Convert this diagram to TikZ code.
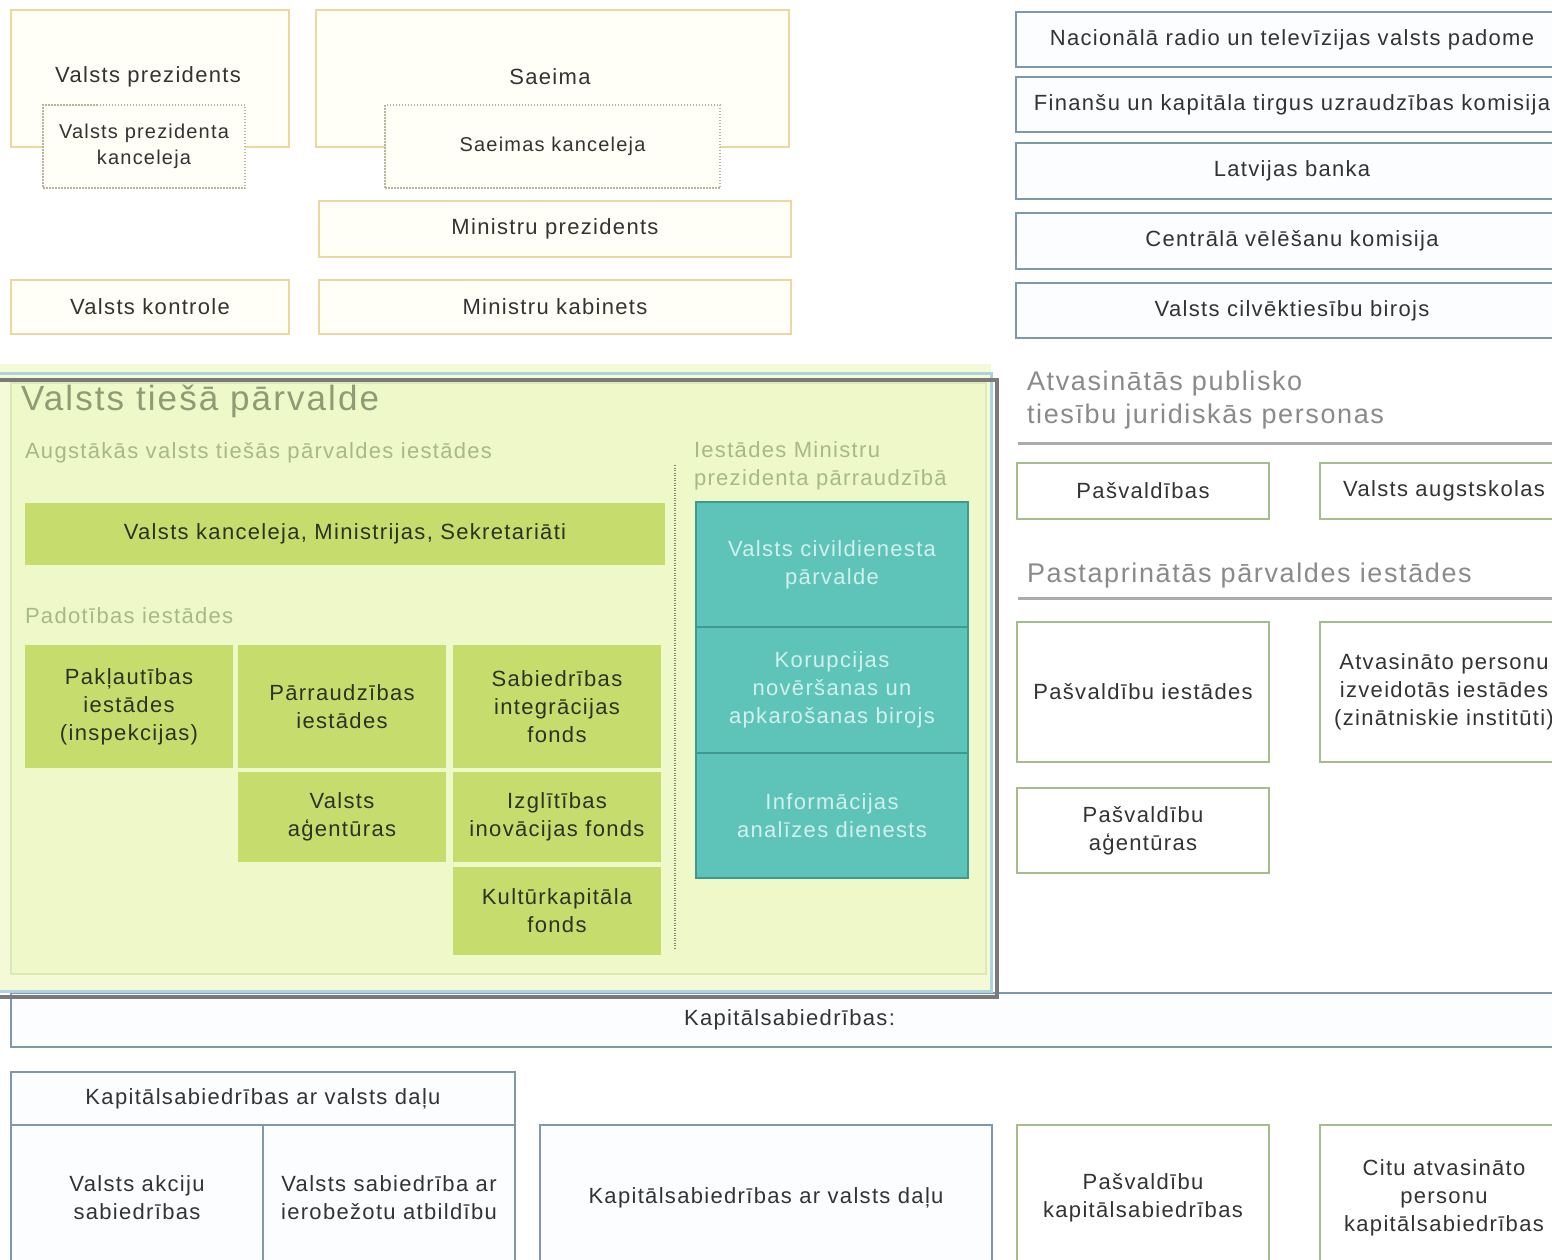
\documentclass[tikz,border=0pt]{standalone}
\usepackage{fontspec}
\setmainfont{Liberation Sans}[LetterSpace=6]
\definecolor{txt}{HTML}{333333}
\definecolor{ybord}{HTML}{EAD8A0}
\definecolor{yfill}{HTML}{FFFFF8}
\definecolor{kbord}{HTML}{B8B49C}
\definecolor{bbord}{HTML}{7F99AC}
\definecolor{bfill}{HTML}{FBFDFF}
\definecolor{gbord}{HTML}{A5BD8C}
\definecolor{panelout}{HTML}{F4FAD8}
\definecolor{panelin}{HTML}{EFF8C8}
\definecolor{panelline}{HTML}{DCE8B6}
\definecolor{cellg}{HTML}{C6DD6E}
\definecolor{celltxt}{HTML}{2C3320}
\definecolor{tealf}{HTML}{5EC4B9}
\definecolor{teald}{HTML}{3E9A90}
\definecolor{tealt}{HTML}{D2F0EC}
\definecolor{ptitle}{HTML}{8E9C76}
\definecolor{psub}{HTML}{A7B889}
\definecolor{headg}{HTML}{8A8A8A}
\definecolor{ruleg}{HTML}{ABABAB}
\definecolor{frameg}{HTML}{7A7A7A}
\definecolor{frameb}{HTML}{ADD4DC}
\definecolor{dotg}{HTML}{7E8C6E}
\begin{document}
\begin{tikzpicture}[x=1pt,y=-1pt,
  font=\fontsize{22}{28}\selectfont,
  every node/.style={inner sep=0pt, outer sep=0pt, align=center, text=txt},
  sz/.style 2 args={minimum width=#1, minimum height=#2},
  ybox/.style={draw=ybord, fill=yfill, line width=1.8},
  kbox/.style={draw=kbord, fill=yfill, line width=1.3, dash pattern=on 1.5pt off 1.5pt, font=\fontsize{20}{26}\selectfont},
  bbox/.style={draw=bbord, fill=bfill, line width=1.8},
  gbox/.style={draw=gbord, fill=white, line width=1.8},
  cell/.style={fill=cellg, text=celltxt},
  tcell/.style={fill=tealf, draw=teald, line width=2, text=tealt},
  head/.style={anchor=west, align=left, text=headg, font=\fontsize{27}{33}\selectfont},
  psubt/.style={anchor=west, align=left, text=psub, font=\fontsize{22}{28}\selectfont},
  hrule/.style={draw=ruleg, line width=3}
]
\useasboundingbox (0,0) rectangle (1552,1259);
\fill[white] (0,0) rectangle (1552,1259);

% ---------- top-left constitutional bodies ----------
\node[ybox, sz={278}{137}] (vp) at (150,78.5) {};
\node at (148,77) (vpt) {Valsts prezidents};
\node[kbox, sz={202}{83}] (vpk) at (144,146.5) {Valsts prezidenta\\kanceleja};
\node[ybox, sz={473}{137}] (saeima) at (552.5,78.5) {};
\node at (550,77) (saeimat) {Saeima};
\node[kbox, sz={335}{83}] (sk) at (552.5,146.5) {Saeimas kanceleja};
\node[ybox, sz={472}{56}] (mp) at (555,229) {Ministru prezidents};
\node[ybox, sz={278}{54}] (vk) at (150,307) {Valsts kontrole};
\node[ybox, sz={472}{54}] (mk) at (555,307) {Ministru kabinets};

% ---------- right column: independent bodies ----------
\node[bbox, sz={552}{55}] (nr) at (1292,39.5) {Nacionālā radio un televīzijas valsts padome};
\node[bbox, sz={552}{55}] (fk) at (1292,104.5) {Finanšu un kapitāla tirgus uzraudzības komisija};
\node[bbox, sz={552}{56}] (lb) at (1292,171) {Latvijas banka};
\node[bbox, sz={552}{56}] (cv) at (1292,241) {Centrālā vēlēšanu komisija};
\node[bbox, sz={552}{55}] (vc) at (1292,310.5) {Valsts cilvēktiesību birojs};

\node[head] (ap) at (1027,400) {Atvasinātās publisko\\tiesību juridiskās personas};
\coordinate (r1a) at (1018,443);
\coordinate (r1b) at (1560,443);
\draw[hrule] (r1a) -- (r1b);
\node[gbox, sz={252}{56}] (pas) at (1143,491) {Pašvaldības};
\node[gbox, sz={248}{56}] (va) at (1444,491) {Valsts augstskolas};

\node[head] (pi) at (1027,576) {Pastaprinātās pārvaldes iestādes};
\coordinate (r2a) at (1018,598);
\coordinate (r2b) at (1560,598);
\draw[hrule] (r2a) -- (r2b);
\node[gbox, sz={252}{140}] (pasi) at (1143,692) {Pašvaldību iestādes};
\node[gbox, sz={248}{140}] (atv) at (1444,692) {Atvasināto personu\\izveidotās iestādes\\(zinātniskie institūti)};
\node[gbox, sz={252}{85}] (pasa) at (1143,830.5) {Pašvaldību\\aģentūras};

% ---------- bottom: companies ----------
\node[bbox, sz={1557}{54}] (kap) at (789.5,1020) {Kapitālsabiedrības:};
\node[bbox, sz={504}{53}] (kvd) at (263,1098.5) {Kapitālsabiedrības ar valsts daļu};
\node[bbox, sz={252}{145}] (vas) at (137,1197.5) {Valsts akciju\\sabiedrības};
\node[bbox, sz={252}{145}] (vsa) at (389,1197.5) {Valsts sabiedrība ar\\ierobežotu atbildību};
\node[bbox, sz={452}{145}] (kvd2) at (766,1197.5) {Kapitālsabiedrības ar valsts daļu};
\node[gbox, sz={252}{145}] (pk) at (1143,1197.5) {Pašvaldību\\kapitālsabiedrības};
\node[gbox, sz={248}{145}] (cak) at (1444,1197.5) {Citu atvasināto\\personu\\kapitālsabiedrības};

% ---------- panel: Valsts tiešā pārvalde ----------
\fill[panelout] (-5,364) rectangle (991,991);
\draw[frameb, line width=3] (-5,373) rectangle (991,991);
\fill[panelin] (11,383) rectangle (986,974);
\draw[panelline, line width=1.2] (11,383) rectangle (986,974);
\draw[frameg, line width=4] (-5,380) rectangle (997,997);

\node[anchor=west, text=ptitle, font=\fontsize{35}{40}\selectfont] (ptitle) at (21,401) {Valsts tiešā pārvalde};
\node[psubt] (sub1) at (25,453) {Augstākās valsts tiešās pārvaldes iestādes};
\node[cell, sz={640}{62}] (vkm) at (345,534) {Valsts kanceleja, Ministrijas, Sekretariāti};
\node[psubt] (sub2) at (25,616) {Padotības iestādes};

\node[cell, sz={208}{123}] (c1) at (129,706.5) {Pakļautības\\iestādes\\(inspekcijas)};
\node[cell, sz={208}{123}] (c2) at (342,706.5) {Pārraudzības\\iestādes};
\node[cell, sz={208}{123}] (c3) at (557,706.5) {Sabiedrības\\integrācijas\\fonds};
\node[cell, sz={208}{90}] (c4) at (342,817) {Valsts\\aģentūras};
\node[cell, sz={208}{90}] (c5) at (557,817) {Izglītības\\inovācijas fonds};
\node[cell, sz={208}{88}] (c6) at (557,911) {Kultūrkapitāla\\fonds};

\coordinate (dla) at (675,465);
\coordinate (dlb) at (675,948);
\draw[dotg, line width=1.5, dash pattern=on 1pt off 1.5pt] (dla) -- (dlb);

\node[psubt] (sub3) at (694,466) {Iestādes Ministru\\prezidenta pārraudzībā};
\node[tcell, sz={272}{125}] (t1) at (832,564.5) {Valsts civildienesta\\pārvalde};
\node[tcell, sz={272}{126}] (t2) at (832,690) {Korupcijas\\novēršanas un\\apkarošanas birojs};
\node[tcell, sz={272}{125}] (t3) at (832,815.5) {Informācijas\\analīzes dienests};
\end{tikzpicture}
\end{document}
